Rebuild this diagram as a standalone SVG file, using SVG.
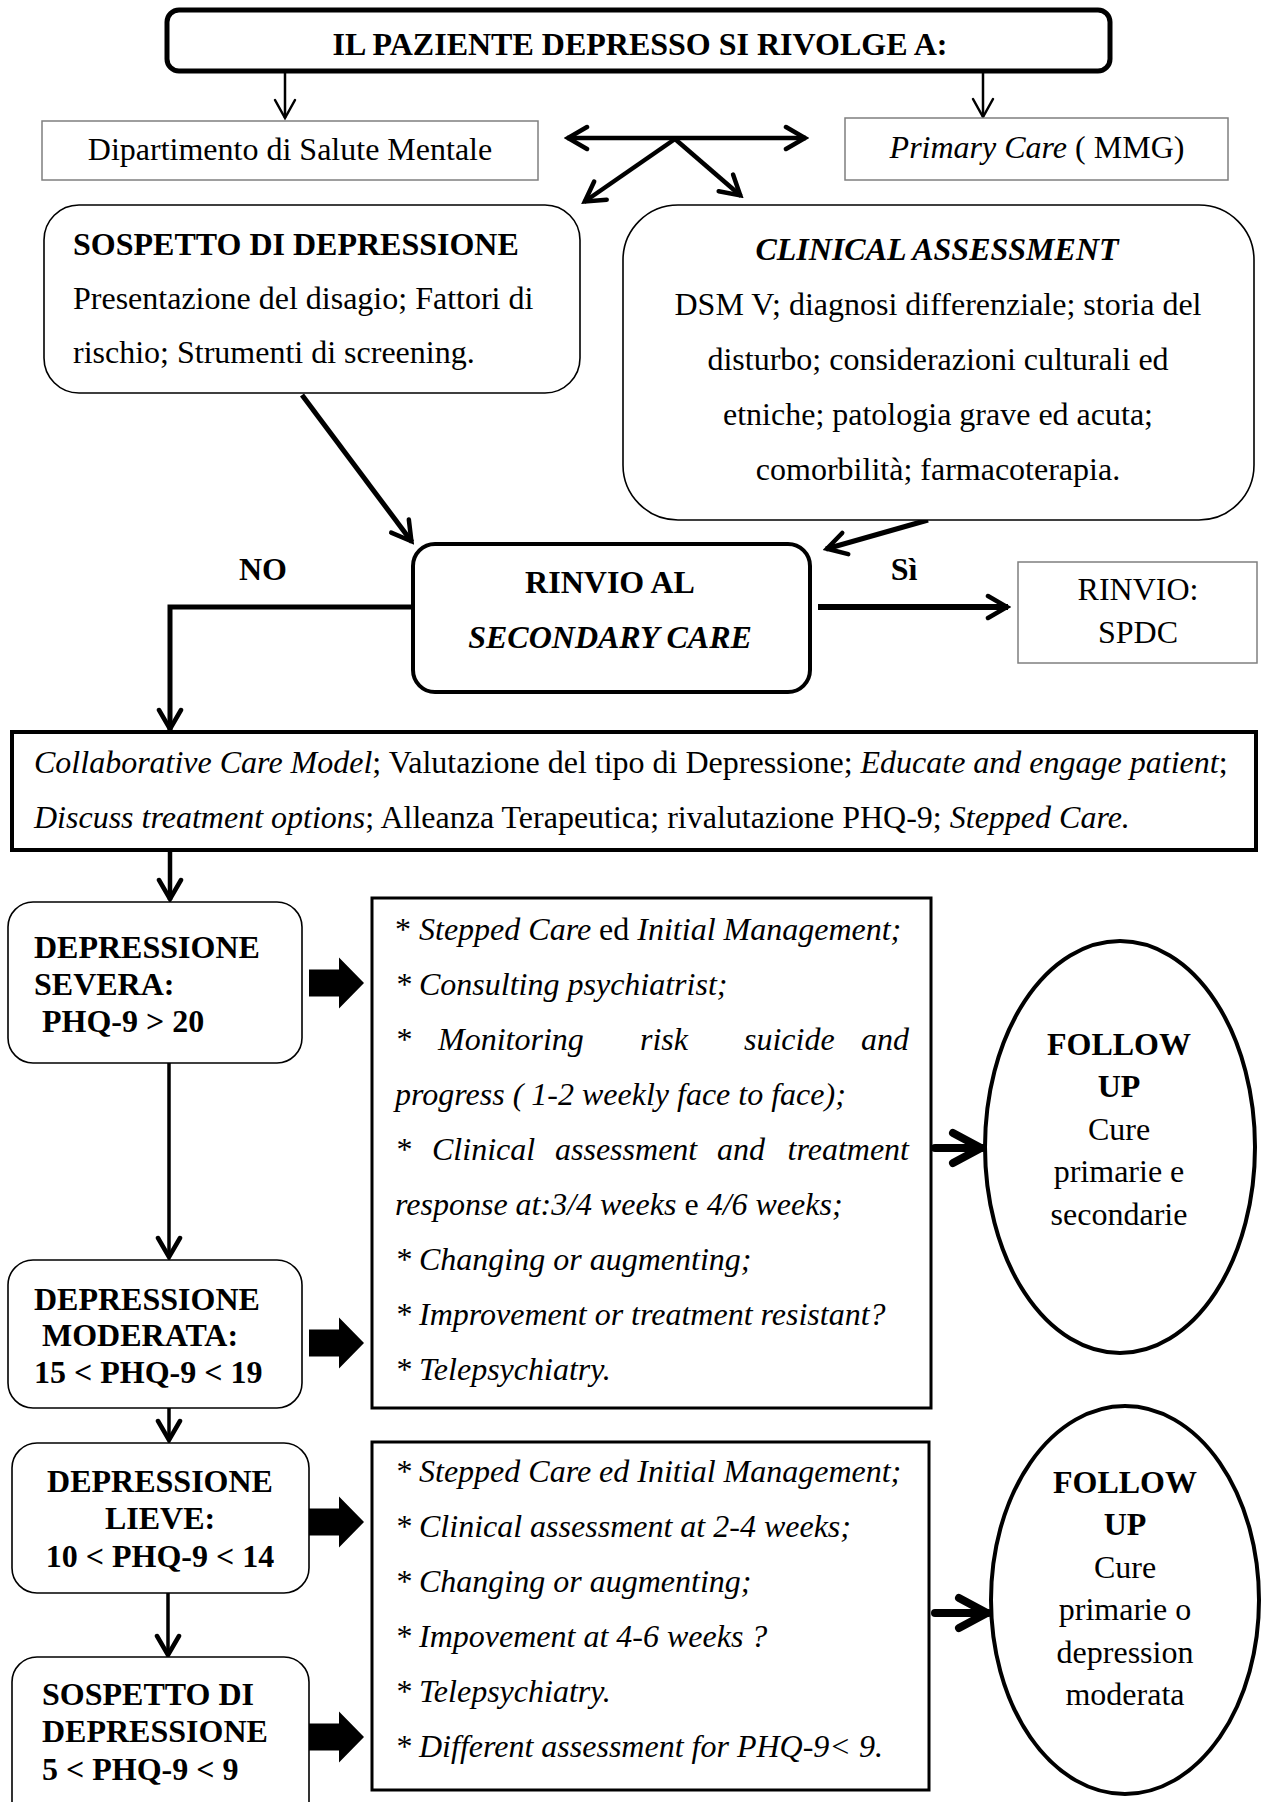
<svg xmlns="http://www.w3.org/2000/svg" width="1264" height="1802" viewBox="0 0 1264 1802">
<style>
text{font-family:"Liberation Serif","Times New Roman",serif;font-size:32px;fill:#000}
.b{font-weight:bold}
.i{font-style:italic}
.n{font-style:normal}
.c{text-anchor:middle}
.e{text-anchor:end}
.rb{fill:#fff;stroke:#000;stroke-width:1.6}
.gb{fill:#fff;stroke:#7f7f7f;stroke-width:1.5}
.hb{fill:#fff;stroke:#000;stroke-width:4}
.ln{fill:none;stroke:#000}
.s1{stroke-width:2.5}
.s2{stroke-width:4.5}
.s3{stroke-width:8;stroke-linecap:round}
</style>
<defs>
<marker id="ahs" viewBox="0 0 24 24" refX="21" refY="12" markerWidth="24" markerHeight="24" markerUnits="userSpaceOnUse" orient="auto-start-reverse">
<path d="M3,2 L21,12 L3,22" fill="none" stroke="#000" stroke-width="2.5" stroke-linecap="round"/>
</marker>
<marker id="ah" viewBox="0 0 26 28" refX="23" refY="14" markerWidth="26" markerHeight="28" markerUnits="userSpaceOnUse" orient="auto-start-reverse">
<path d="M3,3 L22,14 L3,25" fill="none" stroke="#000" stroke-width="4.5" stroke-linecap="round"/>
</marker>
<marker id="ahb" viewBox="0 0 40 40" refX="35" refY="20" markerWidth="40" markerHeight="40" markerUnits="userSpaceOnUse" orient="auto">
<path d="M6,5 L34,20 L6,35" fill="none" stroke="#000" stroke-width="8" stroke-linecap="round" stroke-linejoin="round"/>
</marker>
<path id="blk" d="M0,-13.5 L30,-13.5 L30,-25.5 L55,0 L30,25.5 L30,13.5 L0,13.5 Z" fill="#000"/>
</defs>
<rect width="1264" height="1802" fill="#fff"/>

<g id="connectors">
<line class="ln s1" x1="285" y1="72" x2="285" y2="118" marker-end="url(#ahs)"/>
<line class="ln s1" x1="983" y1="72" x2="983" y2="117" marker-end="url(#ahs)"/>
<line class="ln s2" x1="567" y1="138" x2="806" y2="138" marker-start="url(#ah)" marker-end="url(#ah)"/>
<line class="ln s2" x1="675" y1="139" x2="584" y2="202" marker-end="url(#ah)"/>
<line class="ln s2" x1="675" y1="139" x2="741" y2="196" marker-end="url(#ah)"/>
<line class="ln" stroke-width="5" x1="302" y1="395" x2="412" y2="542" marker-end="url(#ah)"/>
<line class="ln" stroke-width="5" x1="928" y1="520" x2="826" y2="549" marker-end="url(#ah)"/>
<polyline class="ln" stroke-width="5" points="413,607 170,607 170,730" marker-end="url(#ah)"/>
<line class="ln" stroke-width="6" x1="818" y1="607" x2="1008" y2="607" marker-end="url(#ah)"/>
<line class="ln" stroke-width="4.5" x1="170" y1="850" x2="170" y2="900" marker-end="url(#ah)"/>
<line class="ln" stroke-width="3.5" x1="169" y1="1063" x2="169" y2="1258" marker-end="url(#ah)"/>
<line class="ln" stroke-width="3.5" x1="169" y1="1408" x2="169" y2="1441" marker-end="url(#ah)"/>
<line class="ln" stroke-width="3.5" x1="168" y1="1593" x2="168" y2="1656" marker-end="url(#ah)"/>
<line class="ln s3" x1="935" y1="1148" x2="982" y2="1148" marker-end="url(#ahb)"/>
<line class="ln s3" x1="935" y1="1613" x2="988" y2="1613" marker-end="url(#ahb)"/>
<use href="#blk" x="309" y="983"/>
<use href="#blk" x="309" y="1343"/>
<use href="#blk" x="309" y="1522"/>
<use href="#blk" x="309" y="1737"/>
</g>

<g id="n-top">
<rect x="167" y="10" width="943" height="61" rx="12" fill="#fff" stroke="#000" stroke-width="5"/>
<text class="b c" x="640" y="55">IL PAZIENTE DEPRESSO SI RIVOLGE A:</text>
</g>

<g id="n-dsm">
<rect class="gb" x="42" y="121" width="496" height="59"/>
<text class="c" x="290" y="160">Dipartimento di Salute Mentale</text>
</g>

<g id="n-primary">
<rect class="gb" x="845" y="118" width="383" height="62"/>
<text class="c" x="1037" y="158"><tspan class="i">Primary Care</tspan> ( MMG)</text>
</g>

<g id="n-sospetto">
<rect class="rb" x="44" y="205" width="536" height="188" rx="35"/>
<text class="b" x="73" y="255">SOSPETTO DI DEPRESSIONE</text>
<text x="73" y="309">Presentazione del disagio; Fattori di</text>
<text x="73" y="363">rischio; Strumenti di screening.</text>
</g>

<g id="n-clinical">
<rect class="rb" x="623" y="205" width="631" height="315" rx="55"/>
<text class="b i c" x="937" y="260">CLINICAL ASSESSMENT</text>
<text class="c" x="938" y="315">DSM V; diagnosi differenziale; storia del</text>
<text class="c" x="938" y="370">disturbo; considerazioni culturali ed</text>
<text class="c" x="938" y="425">etniche; patologia grave ed acuta;</text>
<text class="c" x="938" y="480">comorbilità; farmacoterapia.</text>
</g>

<g id="n-rinvio">
<rect class="hb" x="413" y="544" width="397" height="148" rx="22"/>
<text class="b c" x="610" y="593">RINVIO AL</text>
<text class="b i c" x="610" y="648">SECONDARY CARE</text>
</g>

<g id="l-no"><text class="b c" x="263" y="580">NO</text></g>
<g id="l-si"><text class="b c" x="904" y="580">Sì</text></g>

<g id="n-spdc">
<rect class="gb" x="1018" y="562" width="239" height="101"/>
<text class="c" x="1138" y="600">RINVIO:</text>
<text class="c" x="1138" y="643">SPDC</text>
</g>

<g id="n-collab">
<rect class="hb" x="12" y="732" width="1244" height="118"/>
<text x="34" y="773"><tspan class="i">Collaborative Care Model</tspan>; Valutazione del tipo di Depressione; <tspan class="i">Educate and engage patient</tspan>;</text>
<text x="34" y="828"><tspan class="i">Discuss treatment options</tspan>; Alleanza Terapeutica; rivalutazione PHQ-9; <tspan class="i">Stepped Care.</tspan></text>
</g>

<g id="n-severa">
<rect class="rb" x="8" y="902" width="294" height="161" rx="25"/>
<text class="b" x="34" y="958">DEPRESSIONE</text>
<text class="b" x="34" y="995">SEVERA:</text>
<text class="b" x="42" y="1032">PHQ-9 &gt; 20</text>
</g>

<g id="n-moderata">
<rect class="rb" x="8" y="1260" width="294" height="148" rx="25"/>
<text class="b" x="34" y="1310">DEPRESSIONE</text>
<text class="b" x="42" y="1346">MODERATA:</text>
<text class="b" x="34" y="1383">15 &lt; PHQ-9 &lt; 19</text>
</g>

<g id="n-lieve">
<rect class="rb" x="12" y="1443" width="297" height="150" rx="25"/>
<text class="b c" x="160" y="1492">DEPRESSIONE</text>
<text class="b c" x="160" y="1529">LIEVE:</text>
<text class="b c" x="160" y="1567">10 &lt; PHQ-9 &lt; 14</text>
</g>

<g id="n-sospetto2">
<rect class="rb" x="12" y="1657" width="297" height="170" rx="25"/>
<text class="b" x="42" y="1705">SOSPETTO DI</text>
<text class="b" x="42" y="1742">DEPRESSIONE</text>
<text class="b" x="42" y="1780">5 &lt; PHQ-9 &lt; 9</text>
</g>

<g id="n-care1">
<rect x="372" y="898" width="559" height="510" fill="#fff" stroke="#000" stroke-width="3"/>
<text x="395" y="940">* <tspan class="i">Stepped Care</tspan> ed <tspan class="i">Initial Management;</tspan></text>
<text class="i" x="395" y="995">* Consulting psychiatrist;</text>
<text class="i" x="395" y="1050">*</text>
<text class="i" x="438" y="1050">Monitoring</text>
<text class="i" x="640" y="1050">risk</text>
<text class="i" x="744" y="1050">suicide</text>
<text class="i e" x="909" y="1050">and</text>
<text class="i" x="395" y="1105">progress ( 1-2 weekly face to face);</text>
<text class="i" x="395" y="1160">*</text>
<text class="i" x="432" y="1160">Clinical</text>
<text class="i" x="555" y="1160">assessment</text>
<text class="i" x="717" y="1160">and</text>
<text class="i e" x="909" y="1160">treatment</text>
<text class="i" x="395" y="1215">response at:3/4 weeks <tspan class="n">e</tspan> 4/6 weeks;</text>
<text class="i" x="395" y="1270">* Changing or augmenting;</text>
<text class="i" x="395" y="1325">* Improvement or treatment resistant?</text>
<text class="i" x="395" y="1380">* Telepsychiatry.</text>
</g>

<g id="n-care2">
<rect x="372" y="1442" width="557" height="348" fill="#fff" stroke="#000" stroke-width="3"/>
<text class="i" x="395" y="1482">* Stepped Care ed Initial Management;</text>
<text class="i" x="395" y="1537">* Clinical assessment at 2-4 weeks;</text>
<text class="i" x="395" y="1592">* Changing or augmenting;</text>
<text class="i" x="395" y="1647">* Impovement at 4-6 weeks ?</text>
<text class="i" x="395" y="1702">* Telepsychiatry.</text>
<text class="i" x="395" y="1757">* Different assessment for PHQ-9&lt; 9.</text>
</g>

<g id="n-follow1">
<ellipse cx="1120" cy="1147" rx="135" ry="206" fill="#fff" stroke="#000" stroke-width="4"/>
<text class="b c" x="1119" y="1055">FOLLOW</text>
<text class="b c" x="1119" y="1097">UP</text>
<text class="c" x="1119" y="1140">Cure</text>
<text class="c" x="1119" y="1182">primarie e</text>
<text class="c" x="1119" y="1225">secondarie</text>
</g>

<g id="n-follow2">
<ellipse cx="1125" cy="1600" rx="134" ry="194" fill="#fff" stroke="#000" stroke-width="4"/>
<text class="b c" x="1125" y="1493">FOLLOW</text>
<text class="b c" x="1125" y="1535">UP</text>
<text class="c" x="1125" y="1578">Cure</text>
<text class="c" x="1125" y="1620">primarie o</text>
<text class="c" x="1125" y="1663">depression</text>
<text class="c" x="1125" y="1705">moderata</text>
</g>
</svg>
